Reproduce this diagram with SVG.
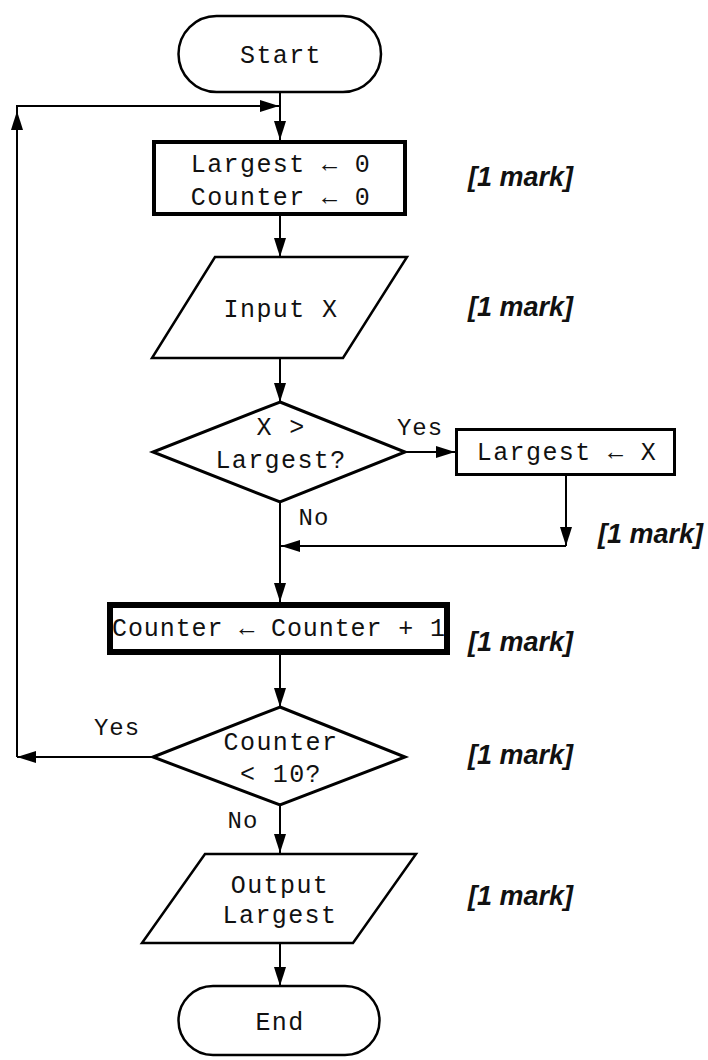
<svg xmlns="http://www.w3.org/2000/svg" width="708" height="1060" viewBox="0 0 708 1060">
<style>
.shape{fill:#fff;stroke:#000;stroke-linejoin:miter}
.t{font-family:"Liberation Mono","DejaVu Sans Mono",monospace;font-size:25px;letter-spacing:1.4px;fill:#111;text-anchor:middle}
.lbl{font-family:"Liberation Mono","DejaVu Sans Mono",monospace;font-size:24px;letter-spacing:1px;fill:#111;text-anchor:middle}
.mark{font-family:"Liberation Sans",Arial,sans-serif;font-size:27px;font-weight:bold;font-style:italic;fill:#111}
.c{fill:none;stroke:#000;stroke-width:2}
</style>
<defs>
<marker id="ah" markerUnits="userSpaceOnUse" markerWidth="19" markerHeight="12" refX="19" refY="6" orient="auto">
<path d="M0,0 L19,6 L0,12 z" fill="#000"/>
</marker>
</defs>
<rect width="708" height="1060" fill="#fff"/>
<g id="connectors">
<path class="c" d="M280,93 L280,140" marker-end="url(#ah)"/>
<path class="c" d="M280,216 L280,257" marker-end="url(#ah)"/>
<path class="c" d="M280,358 L280,402" marker-end="url(#ah)"/>
<path class="c" d="M405,452 L455,452" marker-end="url(#ah)"/>
<path class="c" d="M566,476 L566,546" marker-end="url(#ah)"/>
<path class="c" d="M566,546 L281,546" marker-end="url(#ah)"/>
<path class="c" d="M280,502 L280,602" marker-end="url(#ah)"/>
<path class="c" d="M280,655 L280,707" marker-end="url(#ah)"/>
<path class="c" d="M153,757 L17,757" marker-end="url(#ah)"/>
<path class="c" d="M17,757 L17,111" marker-end="url(#ah)"/>
<path class="c" d="M17,112 L17,106 L279,106" marker-end="url(#ah)"/>
<path class="c" d="M280,805 L280,853" marker-end="url(#ah)"/>
<path class="c" d="M280,943 L280,986" marker-end="url(#ah)"/>
<text class="lbl" x="420" y="435">Yes</text>
<text class="lbl" x="314" y="525">No</text>
<text class="lbl" x="117" y="735">Yes</text>
<text class="lbl" x="243" y="828">No</text>
</g>
<g id="start">
<rect class="shape" x="178.5" y="16" width="202.5" height="76" rx="38" stroke-width="2.5"/>
<text class="t" x="281" y="63">Start</text>
</g>
<g id="init">
<rect class="shape" x="154" y="142" width="251" height="72" stroke-width="4"/>
<text class="t" x="281" y="172">Largest ← 0</text>
<text class="t" x="281" y="205">Counter ← 0</text>
</g>
<g id="input">
<polygon class="shape" points="215,257 407,257 343,358 152,358" stroke-width="2.5"/>
<text class="t" x="281" y="317">Input X</text>
</g>
<g id="decision1">
<polygon class="shape" points="280,402 405,452 280,502 153,452" stroke-width="3"/>
<text class="t" x="281" y="435">X &gt;</text>
<text class="t" x="281" y="468">Largest?</text>
</g>
<g id="setlargest">
<rect class="shape" x="456.5" y="429.5" width="218" height="45" stroke-width="3"/>
<text class="t" x="567" y="460">Largest ← X</text>
</g>
<g id="increment">
<rect class="shape" x="110" y="605" width="337" height="47" stroke-width="6"/>
<text class="t" x="279" y="636" style="letter-spacing:0.9px">Counter ← Counter + 1</text>
</g>
<g id="decision2">
<polygon class="shape" points="280,707 405,757 280,805 153,757" stroke-width="3"/>
<text class="t" x="281" y="750">Counter</text>
<text class="t" x="281" y="782">&lt; 10?</text>
</g>
<g id="output">
<polygon class="shape" points="205,854 416,854 353,943 142,943" stroke-width="2.5"/>
<text class="t" x="280" y="893">Output</text>
<text class="t" x="280" y="923">Largest</text>
</g>
<g id="end">
<rect class="shape" x="178.5" y="986" width="201" height="69" rx="34.5" stroke-width="2.5"/>
<text class="t" x="280" y="1030">End</text>
</g>
<g id="marks">
<text class="mark" x="468" y="186">[1 mark]</text>
<text class="mark" x="468" y="316">[1 mark]</text>
<text class="mark" x="598" y="543">[1 mark]</text>
<text class="mark" x="468" y="651">[1 mark]</text>
<text class="mark" x="468" y="764">[1 mark]</text>
<text class="mark" x="468" y="905">[1 mark]</text>
</g>
</svg>
